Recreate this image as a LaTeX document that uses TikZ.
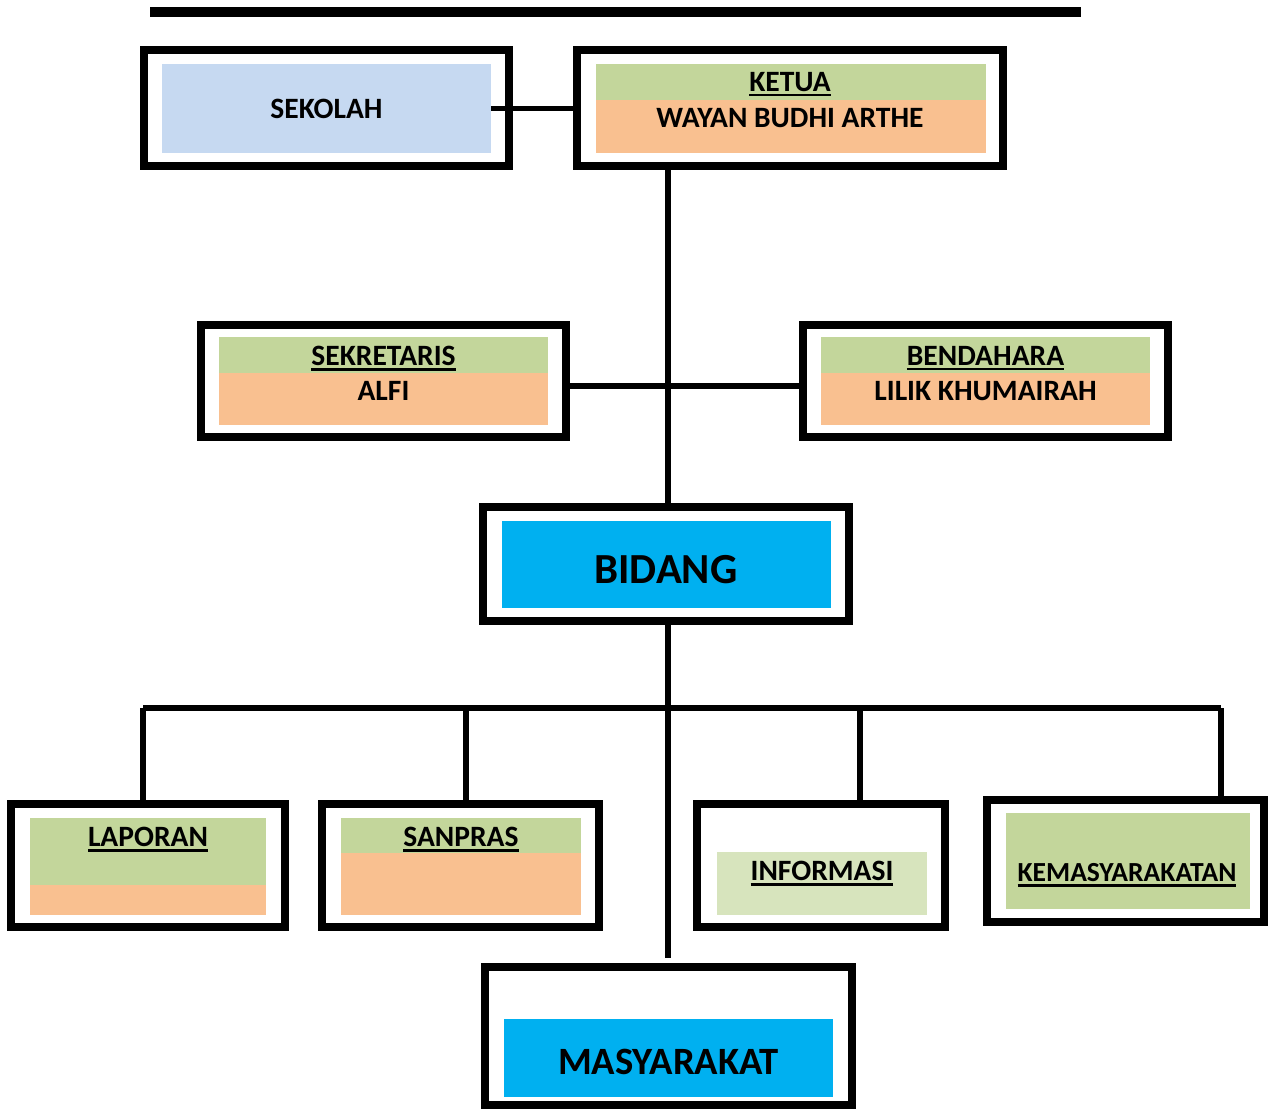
\documentclass[tikz,border=0pt]{standalone}
\usepackage{fontspec}
\setmainfont{Carlito}
\usetikzlibrary{positioning}

\definecolor{hijau}{HTML}{C3D69B}
\definecolor{hijaumuda}{HTML}{D7E4BD}
\definecolor{oranye}{HTML}{F9C090}
\definecolor{birumuda}{HTML}{C6D9F1}
\definecolor{biru}{HTML}{00B0F0}

% garis bawah tebal
\newsavebox{\kotakteks}
\newcommand{\garis}[1]{\sbox{\kotakteks}{#1}\smash{\rlap{\rule[-2.8pt]{\wd\kotakteks}{1.5pt}}}\usebox{\kotakteks}}

\tikzset{
  bingkai/.style={draw, line width=4.5pt},
  hubung/.style={line width=3.2pt},
  isi/.style={inner sep=0pt}
}

\begin{document}
\begin{tikzpicture}[x=0.02cm, y=-0.02cm, font=\bfseries\fontsize{16.8}{20}\selectfont]
\useasboundingbox (0,0) rectangle (1268,1109);

% Garis atas
\draw[line width=5.7pt] (150,12) -- (1081,12);

% Sekolah
\node[bingkai, minimum width=7.3cm, minimum height=2.32cm] (sekolah) at (326.5,108) {};
\node[isi, fill=birumuda, minimum width=6.58cm, minimum height=1.78cm] (sekolahisi) at (326.5,108.5) {SEKOLAH};

% Ketua
\node[bingkai, minimum width=8.52cm, minimum height=2.32cm] (ketua) at (790,108) {};
\fill[hijau] (596,64) rectangle (986,100);
\fill[oranye] (596,100) rectangle (986,153);
\node (ketuajudul) at (790,82) {\garis{KETUA}};
\node (ketuanama) at (790,118) {WAYAN BUDHI ARTHE};

% Sekretaris
\node[bingkai, minimum width=7.3cm, minimum height=2.24cm] (sekretaris) at (383.5,381) {};
\fill[hijau] (219,337) rectangle (548,373);
\fill[oranye] (219,373) rectangle (548,425);
\node (sekjudul) at (383.5,356) {\garis{SEKRETARIS}};
\node (seknama) at (383.5,391) {ALFI};

% Bendahara
\node[bingkai, minimum width=7.3cm, minimum height=2.24cm] (bendahara) at (985.5,381) {};
\fill[hijau] (821,337) rectangle (1150,373);
\fill[oranye] (821,373) rectangle (1150,425);
\node (benjudul) at (985.5,356) {\garis{BENDAHARA}};
\node (bennama) at (985.5,391) {LILIK KHUMAIRAH};

% Bidang
\node[bingkai, minimum width=7.32cm, minimum height=2.28cm] (bidang) at (666,564) {};
\fill[biru] (502,521) rectangle (831,608);
\node[font=\bfseries\fontsize{24.4}{29}\selectfont] (bidangjudul) at (666,570) {BIDANG};

% Laporan
\node[bingkai, minimum width=5.48cm, minimum height=2.46cm] (laporan) at (148,865.5) {};
\fill[hijau] (30,818) rectangle (266,885);
\fill[oranye] (30,885) rectangle (266,915);
\node (laporanjudul) at (148,837) {\garis{LAPORAN}};

% Sanpras
\node[bingkai, minimum width=5.54cm, minimum height=2.46cm] (sanpras) at (460.5,865.5) {};
\fill[hijau] (341,818) rectangle (581,853);
\fill[oranye] (341,853) rectangle (581,915);
\node (sanprasjudul) at (461,837) {\garis{SANPRAS}};

% Informasi
\node[bingkai, minimum width=4.96cm, minimum height=2.46cm] (informasi) at (821,865.5) {};
\fill[hijaumuda] (717,852) rectangle (927,915);
\node (informasijudul) at (822,871) {\garis{INFORMASI}};

% Kemasyarakatan
\node[bingkai, minimum width=5.54cm, minimum height=2.44cm] (kemas) at (1125.5,861) {};
\fill[hijau] (1006,813) rectangle (1250,909);
\node[font=\bfseries\fontsize{15.7}{19}\selectfont] (kemasjudul) at (1127,873) {\garis{KEMASYARAKATAN}};

% Masyarakat
\node[bingkai, minimum width=7.34cm, minimum height=2.76cm] (masyarakat) at (668.5,1036) {};
\fill[biru] (504,1019) rectangle (833,1097);
\node[font=\bfseries\fontsize{22}{26}\selectfont] (masyarakatjudul) at (668.5,1062) {MASYARAKAT};

% Garis penghubung
\draw[hubung] (sekolahisi.east) -- (sekolahisi.east -| ketua.west);
\draw[hubung] ([xshift=0.04cm]ketua.south -| bidang.north) -- ([xshift=0.04cm]bidang.north);
\draw[hubung] ([yshift=-0.1cm]sekretaris.east) -- ([yshift=-0.1cm]bendahara.west);
\draw[hubung] ([xshift=0.04cm]bidang.south) -- ([xshift=0.04cm,yshift=0.1cm]bidang.south |- masyarakat.north);

\coordinate (b1) at (143,708);
\coordinate (b2) at (466,708);
\coordinate (b3) at (860,708);
\coordinate (b4) at (1221,708);
\draw[hubung] (b1) -- (b4);
\draw[hubung] (b1) -- (b1 |- laporan.north);
\draw[hubung] (b2) -- (b2 |- sanpras.north);
\draw[hubung] (b3) -- (b3 |- informasi.north);
\draw[hubung] (b4) -- (b4 |- kemas.north);
\end{tikzpicture}
\end{document}
